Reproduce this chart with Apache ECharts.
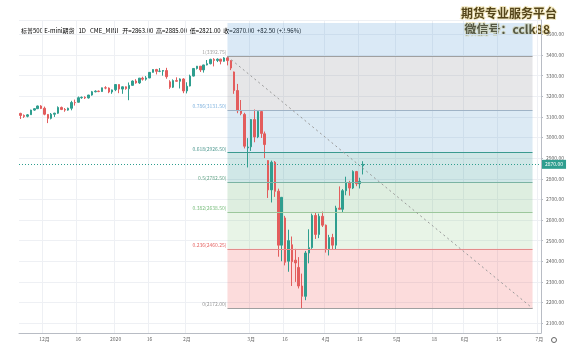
<!DOCTYPE html>
<html>
<head>
<meta charset="utf-8">
<script src="https://cdn.jsdelivr.net/npm/echarts@6/dist/echarts.min.js"></script>
<style>
html, body { margin: 0; padding: 0; background: #fff; }
#main { width: 572px; height: 353px; }
</style>
</head>
<body>
<div id="main"></div>
<script>
// calendar of the axis (trading days, future days included)
var firstDay = '2019-11-20'
var lastDay = '2020-07-01'
var holidays = ['2019-11-28', '2019-12-25', '2020-01-01', '2020-01-20', '2020-02-17', '2020-04-10', '2020-05-25']

// daily candles from 2019-11-20 to 2020-04-17
var opens = [3117,3107,3103,3111,3133,3140,3153,3142,3112,3093,3113,3118,3146,3136,3133,3142,3170,3171,3193,3195,
  3192,3206,3222,3225,3223,3241,3240,3221,3232,3257,3235,3246,3237,3253,3274,3265,3288,3283,3289,3316,
  3330,3321,3322,3325,3270,3244,3276,3273,3284,3226,3250,3298,3335,3346,3328,3352,3358,3379,3374,3380,
  3370,3386,3373,3318,3228,3130,3112,2950,2955,3087,3003,3126,3018,2888,2746,2880,2740,2478,2610,2400,
  2480,2405,2370,2280,2230,2440,2466,2622,2530,2618,2575,2460,2515,2478,2658,2652,2742,2782,2755,2835,
  2776,2863]
var highs = [3120,3112,3114,3135,3142,3155,3157,3150,3114,3119,3120,3151,3150,3143,3145,3178,3184,3199,3199,3200,
  3207,3226,3229,3228,3242,3249,3243,3233,3259,3258,3248,3248,3267,3277,3283,3289,3295,3298,3317,3331,
  3333,3337,3327,3338,3278,3282,3292,3287,3288,3268,3305,3337,3347,3347,3353,3376,3382,3385,3384,3382,
  3390,3392.75,3375,3320,3260,3182,3120,2997,3090,3136,3130,3132,3029,2890,2888,2886,2752,2711,2620,2553,
  2520,2460,2420,2340,2450,2555,2631,2635,2631,2641,2578,2528,2533,2669,2763,2750,2810,2790,2841,2838,
  2805,2885]
var lows = [3090,3095,3098,3110,3130,3138,3138,3108,3070,3088,3100,3115,3133,3125,3130,3132,3155,3170,3188,3187,
  3189,3203,3219,3220,3222,3234,3215,3212,3225,3215,3212,3232,3181,3252,3261,3260,3276,3276,3288,3315,
  3306,3317,3300,3285,3236,3240,3270,3238,3215,3214,3248,3296,3330,3318,3315,3350,3355,3345,3366,3355,
  3368,3350,3327,3212,3118,3108,2947,2855,2935,2977,2997,2998,2900,2707,2685,2712,2422,2400,2380,2349,
  2280,2300,2268,2172,2211,2390,2460,2508,2512,2566,2442,2428,2456,2455,2650,2637,2720,2718,2750,2764,
  2753,2821]
var closes = [3107,3102,3110,3133,3140,3153,3141,3113,3093,3113,3118,3146,3136,3133,3142,3170,3169,3193,3195,3192,
  3206,3222,3225,3223,3241,3240,3221,3231,3257,3235,3246,3237,3253,3274,3265,3288,3283,3289,3316,3330,
  3321,3322,3325,3295,3244,3276,3273,3284,3226,3249,3298,3335,3346,3328,3352,3358,3379,3374,3380,3370,
  3386,3373,3337,3228,3130,3116,2958,2954,3087,3003,3126,3020,2966,2746,2880,2739,2478,2710,2395,2500,
  2398,2392,2280,2230,2440,2466,2622,2530,2618,2575,2460,2515,2478,2658,2652,2742,2782,2755,2835,2776,
  2787.5,2870]

// x tick labels
var tickDates = ['2019-12-02', '2019-12-16', '2020-01-02', '2020-01-16', '2020-02-03', '2020-03-02', '2020-03-16',
  '2020-04-01', '2020-04-16', '2020-05-01', '2020-05-18', '2020-06-01', '2020-06-15', '2020-07-01']
var tickLabels = ['12月', '16', '2020', '16', '2月', '3月', '16', '4月', '16', '5月', '18', '6月', '15', '7月']

// fibonacci retracement drawing
var fibFrom = '2020-02-20'
var fibTo = '2020-06-29'
var fibRatios = ['1', '0.786', '0.618', '0.5', '0.382', '0.236', '0']
var fibPrices = [3392.75, 3131.5, 2926.5, 2782.5, 2638.5, 2460.25, 2172]
var fibLineColors = ['#a0a0a0', '#9fb3c6', '#3b9a8f', '#7bb3a3', '#9cc79c', '#e48c8c', '#a0a0a0']
var fibTextColors = ['#8a8a8a', '#5f9fd6', '#1f7d72', '#3e8e6a', '#58ad5b', '#e0403e', '#7a7a7a']
var fibFills = ['rgba(139,143,151,0.22)', 'rgba(95,159,207,0.22)', 'rgba(39,147,147,0.22)',
  'rgba(103,179,115,0.22)', 'rgba(151,203,147,0.22)', 'rgba(243,95,95,0.22)']
var boxTop = 3555
var boxFill = 'rgba(87,155,215,0.22)'

var upColor = '#2f9e8f'
var downColor = '#e35d5d'

function tradingDays(from, to, skip) {
  var out = []
  var d = new Date(from + 'T00:00:00Z')
  var end = new Date(to + 'T00:00:00Z')
  while (d <= end) {
    var s = d.toISOString().slice(0, 10)
    var w = d.getUTCDay()
    if (w > 0 && w < 6 && skip.indexOf(s) < 0) out.push(s)
    d.setUTCDate(d.getUTCDate() + 1)
  }
  return out
}

var days = tradingDays(firstDay, lastDay, holidays)
var candles = opens.map(function (o, i) {
  return [o, closes[i], lows[i], highs[i]]
})
var n = closes.length - 1
var lastClose = closes[n]
var change = closes[n] - closes[n - 1]
var pct = change / closes[n - 1] * 100
var i0 = days.indexOf(fibFrom)
var i1 = days.indexOf(fibTo)

var areas = [[{ coord: [i0, boxTop], itemStyle: { color: boxFill } }, { coord: [i1, fibPrices[0]] }]]
for (var k = 0; k < fibPrices.length - 1; k++) {
  areas.push([{ coord: [i0, fibPrices[k]], itemStyle: { color: fibFills[k] } }, { coord: [i1, fibPrices[k + 1]] }])
}
var lines = fibPrices.map(function (p, k) {
  return [{ coord: [i0, p], lineStyle: { color: fibLineColors[k], width: 1, type: 'solid' } }, { coord: [i1, p] }]
})
lines.push([{ coord: [i0, fibPrices[0]], lineStyle: { color: '#9a9a9a', width: 1, type: [2, 3] } },
  { coord: [i1, fibPrices[fibPrices.length - 1]] }])
lines.push({
  yAxis: lastClose,
  lineStyle: { color: upColor, width: 1, type: [1, 2] },
  label: {
    show: true, position: 'end', distance: 1, formatter: lastClose.toFixed(2),
    backgroundColor: upColor, color: '#fff', fontSize: 5, padding: [2, 3, 2, 3]
  }
})

var fibLabels = fibPrices.map(function (p, k) {
  return {
    value: [i0, p],
    label: { color: fibTextColors[k] }
  }
})

var font = '"Noto Sans CJK SC", "Noto Sans", sans-serif'
function fmt(v) { return v.toFixed(2) }
var headerText =
  '{n|标普500 E-mini期货   1D   CME_MINI   }' +
  '{k|开=}{v|' + fmt(opens[n]) + '  }{k|高=}{v|' + fmt(highs[n]) + '  }' +
  '{k|低=}{v|' + fmt(lows[n]) + '  }{k|收=}{v|' + fmt(closes[n]) + '  ' +
  '+' + fmt(change) + ' (+' + pct.toFixed(2) + '%)}'

var chart = echarts.init(document.getElementById('main'))
chart.setOption({
  animation: false,
  backgroundColor: '#fff',
  textStyle: { fontFamily: font },
  grid: { left: 19, right: 31, top: 20, bottom: 20 },
  xAxis: {
    type: 'category',
    data: days,
    boundaryGap: true,
    axisLine: { lineStyle: { color: '#b8bcc4' } },
    axisTick: {
      alignWithLabel: true, length: 2, lineStyle: { color: '#b8bcc4' },
      interval: function (i, v) { return tickDates.indexOf(v) >= 0 }
    },
    axisLabel: {
      fontSize: 5, color: '#666', margin: 4,
      interval: function (i, v) { return tickDates.indexOf(v) >= 0 },
      formatter: function (v) { return tickLabels[tickDates.indexOf(v)] }
    },
    splitLine: {
      show: true, lineStyle: { color: '#eef0f4', width: 1 },
      interval: function (i, v) { return tickDates.indexOf(v) >= 0 }
    }
  },
  yAxis: {
    type: 'value',
    position: 'right',
    min: 2052,
    max: 3570,
    splitNumber: 15,
    scale: true,
    axisLine: { show: true, lineStyle: { color: '#b8bcc4' } },
    axisTick: { show: true, length: 2, lineStyle: { color: '#b8bcc4' } },
    axisLabel: {
      fontSize: 5, color: '#666', margin: 5,
      showMinLabel: false, showMaxLabel: false,
      formatter: function (v) { return v.toFixed(2) }
    },
    splitLine: { lineStyle: { color: '#eef0f4', width: 1 } }
  },
  series: [
    {
      type: 'candlestick',
      data: candles,
      barWidth: 2,
      itemStyle: {
        color: upColor, color0: downColor,
        borderColor: upColor, borderColor0: downColor, borderWidth: 1
      },
      markArea: { silent: true, data: areas },
      markLine: { silent: true, symbol: ['none', 'none'], label: { show: false }, data: lines }
    },
    {
      type: 'scatter',
      symbolSize: 0,
      silent: true,
      data: fibLabels,
      label: {
        show: true, position: 'left', distance: 1, offset: [0, -4], fontSize: 5,
        formatter: function (p) {
          var k = p.dataIndex
          return fibRatios[k] + '(' + fibPrices[k].toFixed(2) + ')'
        }
      }
    }
  ],
  graphic: [
    {
      type: 'text', left: 21, top: 28,
      style: {
        text: headerText, fontSize: 6, fontFamily: font,
        rich: {
          n: { fontSize: 6, fontFamily: font, color: '#333' },
          k: { fontSize: 6, fontFamily: font, color: '#555' },
          v: { fontSize: 6, fontFamily: font, color: upColor }
        }
      }
    },
    {
      type: 'text', right: 14, top: 6,
      style: {
        text: '期货专业服务平台', fontSize: 12, fontWeight: 'bold', fontFamily: font,
        fill: '#54451a', stroke: '#f3e9c2', lineWidth: 2
      }
    },
    {
      type: 'text', right: 21, top: 22,
      style: {
        text: '微信号：cclk88', fontSize: 12, fontWeight: 'bold', fontFamily: font,
        fill: '#54451a', stroke: '#f3e9c2', lineWidth: 2
      }
    },
    {
      type: 'circle', shape: { cx: 554, cy: 340, r: 2.5 },
      style: { fill: 'none', stroke: '#666', lineWidth: 1 }
    }
  ]
})
</script>
</body>
</html>
